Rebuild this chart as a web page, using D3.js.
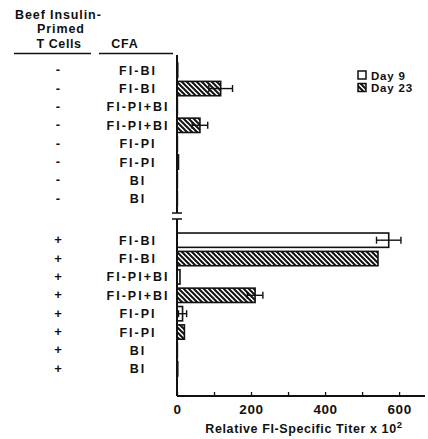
<!DOCTYPE html>
<html>
<head>
<meta charset="utf-8">
<script src="https://cdn.jsdelivr.net/npm/d3@7"></script>
<style>
  body { margin: 0; background: #fff; }
  text { font-family: "Liberation Sans", Arial, sans-serif; font-weight: bold; fill: #111; }
</style>
</head>
<body>
<div id="chart"></div>
<script>
// rows in each panel (top to bottom)
var cfa = ["FI-BI", "FI-BI", "FI-PI+BI", "FI-PI+BI", "FI-PI", "FI-PI", "BI", "BI"];
var day = ["Day 9", "Day 23", "Day 9", "Day 23", "Day 9", "Day 23", "Day 9", "Day 23"];
var primed = ["-", "+"];
// relative FI-specific titer x 10^2, and error
var titerMinus = [2, 118, 1, 62, 1, 4, 1, 1];
var errMinus   = [0, 32, 0, 21, 0, 0, 0, 0];
var titerPlus  = [572, 543, 8, 211, 15, 20, 1, 2];
var errPlus    = [33, 0, 0, 21, 11, 0, 0, 0];
var xTicks = [0, 100, 200, 300, 400, 500, 600];
var xLabels = [0, 200, 400, 600];
var legendKeys = ["Day 9", "Day 23"];

var W = 428, H = 439;
var svg = d3.select("#chart").append("svg")
    .attr("width", W).attr("height", H);

var defs = svg.append("defs");
var pat = defs.append("pattern")
    .attr("id", "hatch")
    .attr("patternUnits", "userSpaceOnUse")
    .attr("width", 5).attr("height", 5);
pat.append("rect").attr("width", 5).attr("height", 5).attr("fill", "#fff");
pat.append("path")
    .attr("d", "M0,0L5,5M-1,4L1,6M4,-1L6,1")
    .attr("stroke", "#111").attr("stroke-width", 2);

var x = d3.scaleLinear().domain([0, 670]).range([177, 425]);

var panels = [
    {sign: primed[0], vals: titerMinus, errs: errMinus, range: [61, 208], axis: [55, 213]},
    {sign: primed[1], vals: titerPlus, errs: errPlus, range: [231, 378], axis: [219, 396]}
];

var fill = function (i) { return day[i] === "Day 9" ? "#fff" : "url(#hatch)"; };

// header
var hdr = svg.append("g");
hdr.append("text").attr("x", 15).attr("y", 19).attr("font-size", 12.5).attr("letter-spacing", 0.9).text("Beef Insulin-");
hdr.append("text").attr("x", 61).attr("y", 33).attr("text-anchor", "middle").attr("font-size", 12.5).attr("letter-spacing", 0.9).text("Primed");
hdr.append("text").attr("x", 59).attr("y", 48).attr("text-anchor", "middle").attr("font-size", 12.5).attr("letter-spacing", 0.6).text("T Cells");
hdr.append("text").attr("x", 125).attr("y", 48).attr("text-anchor", "middle").attr("font-size", 12.5).attr("letter-spacing", 0.8).text("CFA");
hdr.append("line").attr("x1", 14).attr("x2", 91).attr("y1", 53.5).attr("y2", 53.5).attr("stroke", "#111").attr("stroke-width", 1.5);
hdr.append("line").attr("x1", 99).attr("x2", 173).attr("y1", 53.5).attr("y2", 53.5).attr("stroke", "#111").attr("stroke-width", 1.5);

panels.forEach(function (p) {
    var y = d3.scaleBand().domain(d3.range(cfa.length)).range(p.range).paddingInner(0.22).paddingOuter(0.11);
    var g = svg.append("g");

    g.selectAll(".sign").data(cfa).enter().append("text")
        .attr("x", 58).attr("y", function (d, i) { return y(i) + y.bandwidth() / 2 + 4; })
        .attr("text-anchor", "middle").attr("font-size", 13)
        .text(p.sign);

    g.selectAll(".lab").data(cfa).enter().append("text")
        .attr("x", 138).attr("y", function (d, i) { return y(i) + y.bandwidth() / 2 + 4.5; })
        .attr("text-anchor", "middle").attr("font-size", 12.5).attr("letter-spacing", 2)
        .text(function (d) { return d; });

    g.selectAll("rect.bar").data(p.vals).enter().append("rect")
        .attr("class", "bar")
        .attr("x", x(0))
        .attr("y", function (d, i) { return y(i); })
        .attr("width", function (d) { return x(d) - x(0); })
        .attr("height", y.bandwidth())
        .attr("fill", function (d, i) { return fill(i); })
        .attr("stroke", "#111").attr("stroke-width", 1.6);

    // error bars
    var eb = g.selectAll(".err").data(p.vals.map(function (v, i) { return {v: v, e: p.errs[i], i: i}; })
        .filter(function (d) { return d.e > 0; })).enter().append("g");
    eb.append("line")
        .attr("x1", function (d) { return x(d.v - d.e); }).attr("x2", function (d) { return x(d.v + d.e); })
        .attr("y1", function (d) { return y(d.i) + y.bandwidth() / 2; })
        .attr("y2", function (d) { return y(d.i) + y.bandwidth() / 2; })
        .attr("stroke", "#111").attr("stroke-width", 1.4);
    [-1, 1].forEach(function (s) {
        eb.append("line")
            .attr("x1", function (d) { return x(d.v + s * d.e); }).attr("x2", function (d) { return x(d.v + s * d.e); })
            .attr("y1", function (d) { return y(d.i) + y.bandwidth() / 2 - 3.5; })
            .attr("y2", function (d) { return y(d.i) + y.bandwidth() / 2 + 3.5; })
            .attr("stroke", "#111").attr("stroke-width", 1.4);
    });

    // vertical axis segment
    g.append("line").attr("x1", x(0)).attr("x2", x(0))
        .attr("y1", p.axis[0]).attr("y2", p.axis[1])
        .attr("stroke", "#111").attr("stroke-width", 2);
});

// axis break marks
[213, 219].forEach(function (yy) {
    svg.append("line").attr("x1", x(0) - 5).attr("x2", x(0) + 5)
        .attr("y1", yy).attr("y2", yy).attr("stroke", "#111").attr("stroke-width", 1.5);
});

// x axis
var xAxis = d3.axisBottom(x).tickValues(xTicks).tickSize(-4)
    .tickFormat(function (d) { return xLabels.indexOf(d) >= 0 ? d : ""; });
var ax = svg.append("g").attr("transform", "translate(0,396)").call(xAxis);
ax.select(".domain").attr("stroke", "#111").attr("stroke-width", 2).attr("d", "M" + x(0) + ",0H" + x(670));
ax.selectAll(".tick line").attr("stroke", "#111").attr("stroke-width", 1.3);
ax.selectAll(".tick text").attr("y", 8).attr("dy", "0.71em")
    .attr("font-size", 13.5).attr("letter-spacing", 0.6).attr("font-family", "Liberation Sans, Arial, sans-serif")
    .attr("font-weight", "bold").attr("fill", "#111");

var title = svg.append("text").attr("x", 304).attr("y", 433).attr("text-anchor", "middle")
    .attr("font-size", 12.5).attr("letter-spacing", 0.6);
title.append("tspan").text("Relative FI-Specific Titer x 10");
title.append("tspan").attr("dy", -5).attr("font-size", 9.5).text("2");

// legend
var lg = svg.append("g").attr("transform", "translate(358,71)");
legendKeys.forEach(function (k, i) {
    lg.append("rect").attr("x", 0).attr("y", i * 12.5).attr("width", 8).attr("height", 8)
        .attr("fill", k === "Day 9" ? "#fff" : "url(#hatch)")
        .attr("stroke", "#111").attr("stroke-width", 1.5);
    lg.append("text").attr("x", 13).attr("y", i * 12.5 + 8.5).attr("font-size", 11.5).attr("letter-spacing", 0.8).text(k);
});
</script>
</body>
</html>
